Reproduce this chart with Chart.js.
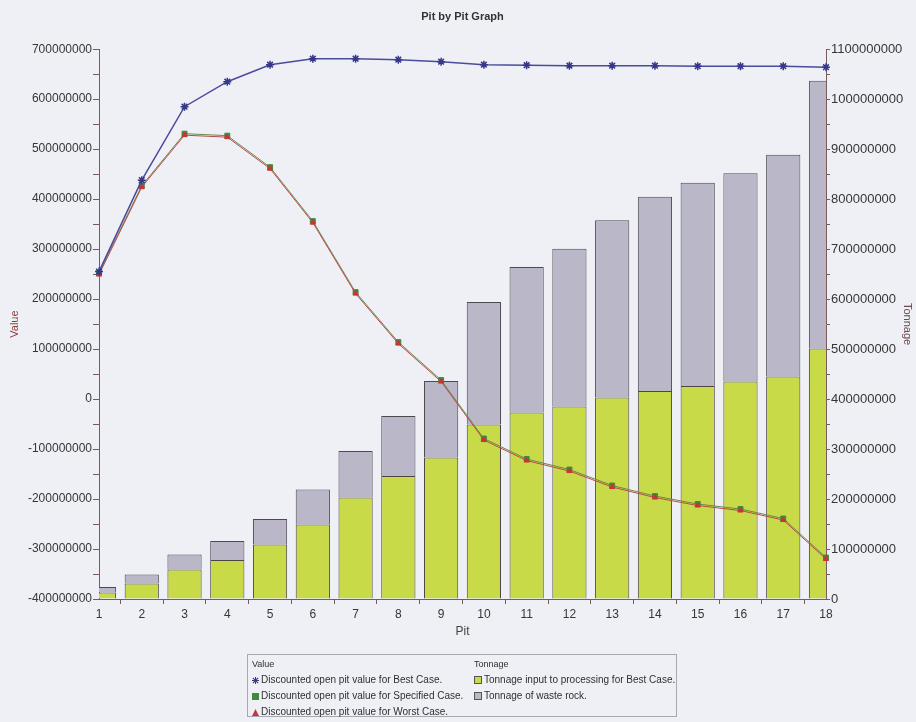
<!DOCTYPE html>
<html>
<head>
<meta charset="utf-8">
<script src="https://cdn.jsdelivr.net/npm/chart.js@4.4.1/dist/chart.umd.min.js"></script>
<style>
  body { margin: 0; background: #eef0f6; }
  #wrap { position: relative; width: 916px; height: 722px; }
  #legend {
    position: absolute; left: 247px; top: 654px; width: 430px; height: 63px;
    border: 1px solid #a8a8b0; box-sizing: border-box;
    font-family: "Liberation Sans", Arial, sans-serif; color: #2f2f2f;
  }
  .col { position: absolute; top: 1px; }
  .head { font-size: 9px; height: 16px; line-height: 16px; }
  .item { font-size: 10px; height: 16px; line-height: 16px; white-space: nowrap; }
  .icon { display: inline-block; width: 7px; height: 7px; margin-right: 2px; vertical-align: -1px; }
</style>
</head>
<body>
<div id="wrap">
  <canvas id="chart" width="916" height="722"></canvas>
  <div id="legend"></div>
</div>
<script>
const pits = ['1', '2', '3', '4', '5', '6', '7', '8', '9', '10', '11', '12', '13', '14', '15', '16', '17', '18'];

// Value axis (left)
const bestCase = [255000000, 438000000, 585000000, 635000000, 669000000, 681000000, 681000000, 679000000, 675000000,
    669000000, 668000000, 667000000, 667000000, 667000000, 666000000, 666000000, 666000000, 664000000];
const specifiedCase = [252000000, 427000000, 531000000, 527000000, 464000000, 356000000, 214000000, 114000000, 38000000,
    -79000000, -120000000, -141000000, -173000000, -194000000, -210000000, -220000000, -239000000, -317000000];
const worstCase = [249000000, 424000000, 528000000, 524000000, 461000000, 353000000, 211000000, 111000000, 35000000,
    -82000000, -123000000, -144000000, -176000000, -197000000, -213000000, -223000000, -242000000, -320000000];

// Tonnage axis (right)
const oreTonnage = [13000000, 31000000, 59000000, 78000000, 109000000, 149000000, 203000000, 246000000, 283000000,
    349000000, 373000000, 385000000, 403000000, 416000000, 426000000, 435000000, 445000000, 501000000];
const wasteTonnage = [11000000, 18000000, 30000000, 38000000, 51000000, 70000000, 93000000, 120000000, 153000000,
    245000000, 291000000, 316000000, 355000000, 389000000, 407000000, 417000000, 444000000, 536000000];

const axisColor = '#7a5a5a';
const tickTextColor = '#363636';

function bigLabel(v) {
    return v % 100000000 === 0 ? String(v) : '';
}

const ctx = document.getElementById('chart').getContext('2d');
const chart = new Chart(ctx, {
    type: 'bar',
    data: {
        labels: pits,
        datasets: [
            {type: 'line', label: 'Discounted open pit value for Best Case.', data: bestCase, yAxisID: 'y',
                borderColor: '#4b4b9c', borderWidth: 1.5, pointStyle: 'star', pointRadius: 4,
                pointBorderColor: '#36368a', pointBorderWidth: 1.5, order: 0, group: 'Value', icon: 'star'},
            {type: 'line', label: 'Discounted open pit value for Specified Case.', data: specifiedCase, yAxisID: 'y',
                borderColor: '#6a8a4a', borderWidth: 1, pointStyle: 'rect', pointRadius: 3.5,
                pointBackgroundColor: '#3f8a3f', pointBorderColor: '#3f8a3f', order: 2, group: 'Value', icon: 'rect'},
            {type: 'line', label: 'Discounted open pit value for Worst Case.', data: worstCase, yAxisID: 'y',
                borderColor: '#b84a4a', borderWidth: 1, pointStyle: 'triangle', pointRadius: 3,
                pointBackgroundColor: '#cc3333', pointBorderColor: '#cc3333', order: 1, group: 'Value', icon: 'triangle'},
            {label: 'Tonnage input to processing for Best Case.', data: oreTonnage, yAxisID: 'yR',
                backgroundColor: '#c8da48', borderColor: '#4e4444', borderWidth: 1, order: 3,
                categoryPercentage: 0.8, barPercentage: 1, group: 'Tonnage', icon: 'box'},
            {label: 'Tonnage of waste rock.', data: wasteTonnage, yAxisID: 'yR',
                backgroundColor: '#bab7c8', borderColor: '#4e4850', borderWidth: 1, order: 3,
                categoryPercentage: 0.8, barPercentage: 1, group: 'Tonnage', icon: 'box'}
        ]
    },
    options: {
        responsive: false,
        animation: false,
        devicePixelRatio: 1,
        layout: {padding: {left: 0, right: 0, top: 0, bottom: 79}},
        plugins: {
            legend: {display: false},
            tooltip: {enabled: false},
            title: {
                display: true, text: 'Pit by Pit Graph', fullSize: false, color: '#333',
                font: {family: 'Liberation Sans', size: 11, weight: 'bold'},
                padding: {top: 10, bottom: 26}
            }
        },
        scales: {
            x: {
                stacked: true,
                offset: false,
                grid: {display: true, drawOnChartArea: false, tickLength: 5, tickColor: axisColor},
                border: {color: axisColor, width: 1},
                ticks: {color: tickTextColor, font: {family: 'Liberation Sans', size: 12}, padding: 3,
                    maxRotation: 0, autoSkip: false},
                title: {display: true, text: 'Pit', color: '#444', font: {family: 'Liberation Sans', size: 12},
                    padding: {top: 0, bottom: 4}},
                afterFit: s => { s.height = 44; }
            },
            y: {
                position: 'left',
                min: -400000000, max: 700000000,
                grid: {drawOnChartArea: false, tickLength: 6, tickColor: axisColor},
                border: {color: axisColor, width: 1},
                ticks: {stepSize: 50000000, autoSkip: false, color: tickTextColor,
                    font: {family: 'Liberation Sans', size: 12}, padding: 1, callback: bigLabel},
                title: {display: true, text: 'Value', color: '#8b3c3c', font: {family: 'Liberation Sans', size: 11},
                    padding: {top: 8.4, bottom: 0}},
                afterFit: s => { s.width = 99; }
            },
            yR: {
                position: 'right',
                stacked: true,
                min: 0, max: 1100000000,
                grid: {drawOnChartArea: false, tickLength: 4, tickColor: axisColor},
                border: {color: axisColor, width: 1},
                ticks: {stepSize: 50000000, autoSkip: false, color: tickTextColor,
                    font: {family: 'Liberation Sans', size: 13}, padding: 1, callback: bigLabel},
                title: {display: true, text: 'Tonnage', color: '#6b4b4b', font: {family: 'Liberation Sans', size: 11},
                    padding: {top: 2, bottom: 0}},
                afterFit: s => { s.width = 90; }
            }
        }
    }
});

// HTML legend in two groups
function iconHtml(ds) {
    if (ds.icon === 'star') {
        return '<svg class="icon" viewBox="0 0 8 8"><g stroke="#36368a" stroke-width="1.2">' +
            '<line x1="4" y1="0" x2="4" y2="8"/><line x1="0" y1="4" x2="8" y2="4"/>' +
            '<line x1="1" y1="1" x2="7" y2="7"/><line x1="7" y1="1" x2="1" y2="7"/></g></svg>';
    }
    if (ds.icon === 'rect') {
        return '<span class="icon" style="background:' + ds.pointBackgroundColor + '"></span>';
    }
    if (ds.icon === 'triangle') {
        return '<svg class="icon" viewBox="0 0 8 8"><polygon points="4,0 8,8 0,8" fill="' + ds.pointBackgroundColor + '"/></svg>';
    }
    return '<span class="icon" style="width:6px;height:6px;background:' + ds.backgroundColor +
        ';border:1px solid #555"></span>';
}

const legend = document.getElementById('legend');
[['Value', 4], ['Tonnage', 226]].forEach(([group, left]) => {
    let html = '<div class="head">' + group + '</div>';
    chart.data.datasets.filter(d => d.group === group).forEach(d => {
        html += '<div class="item">' + iconHtml(d) + d.label + '</div>';
    });
    const col = document.createElement('div');
    col.className = 'col';
    col.style.left = left + 'px';
    col.innerHTML = html;
    legend.appendChild(col);
});
</script>
</body>
</html>
